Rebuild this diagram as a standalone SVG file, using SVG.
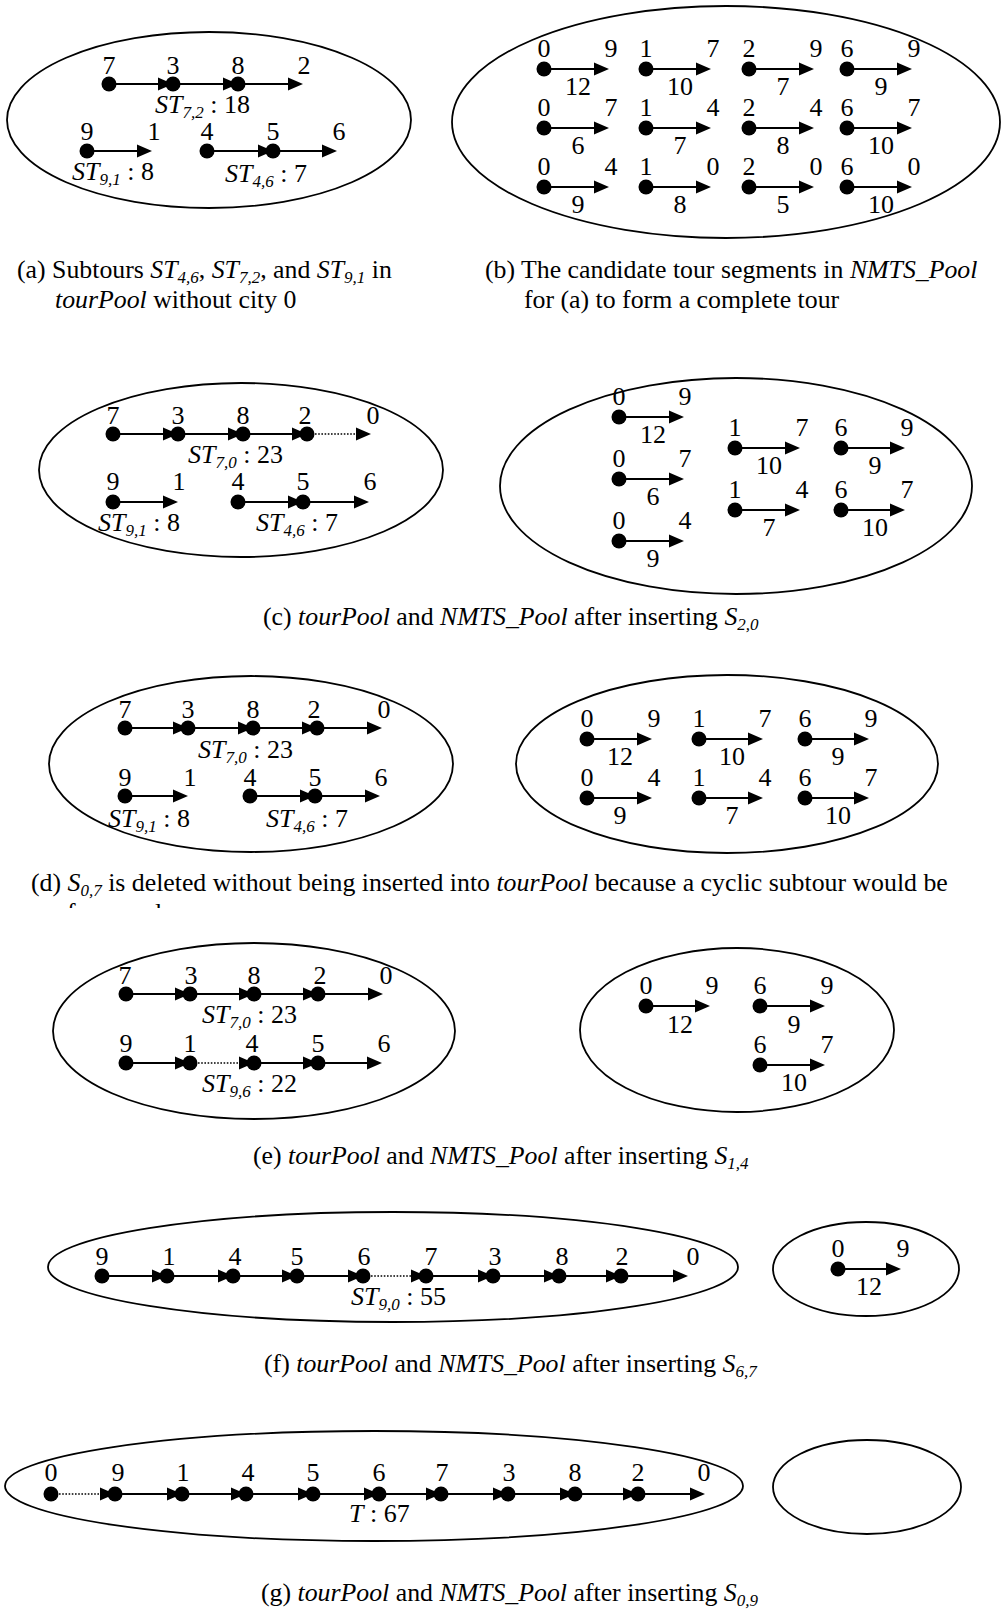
<svg xmlns="http://www.w3.org/2000/svg" width="1001" height="1615" viewBox="0 0 1001 1615">
<style>
text{font-family:'Liberation Serif','Times New Roman',serif;font-size:26px;fill:#000}
.m{text-anchor:middle}
.i{font-style:italic}
.s{font-size:17px;font-style:italic}
.cap{font-size:25.8px}
.e{fill:none;stroke:#000;stroke-width:1.8}
.c{stroke:#000;stroke-width:2;fill:none;marker-end:url(#ah)}
.d{stroke:#000;stroke-width:1.6;stroke-dasharray:1.6 1.6;fill:none;marker-end:url(#ah)}
.n{fill:#000}
</style>
<defs>
<marker id="ah" markerUnits="userSpaceOnUse" markerWidth="16" markerHeight="14" refX="7" refY="7" orient="auto"><path d="M0,0.5 L15,7 L0,13.5 Z" fill="#000"/></marker>
<clipPath id="cd"><rect x="0" y="895" width="1001" height="13"/></clipPath>
</defs>
<rect width="1001" height="1615" fill="#fff"/>

<g id="pools">
<ellipse id="a-tourPool" class="e" cx="209" cy="120" rx="202" ry="88"/>
<ellipse id="b-nmts" class="e" cx="726" cy="122" rx="274" ry="116"/>
<ellipse id="c-tourPool" class="e" cx="241" cy="470" rx="202" ry="87"/>
<ellipse id="c-nmts" class="e" cx="736" cy="486" rx="236" ry="108"/>
<ellipse id="d-tourPool" class="e" cx="251" cy="764" rx="202" ry="88"/>
<ellipse id="d-nmts" class="e" cx="727" cy="764" rx="211" ry="89"/>
<ellipse id="e-tourPool" class="e" cx="254" cy="1031" rx="201" ry="88"/>
<ellipse id="e-nmts" class="e" cx="737" cy="1030" rx="157" ry="82"/>
<ellipse id="f-tourPool" class="e" cx="393" cy="1267" rx="345" ry="55"/>
<ellipse id="f-nmts" class="e" cx="866" cy="1269" rx="93" ry="47"/>
<ellipse id="g-tourPool" class="e" cx="374" cy="1486" rx="369" ry="55"/>
<ellipse id="g-nmts" class="e" cx="867" cy="1487" rx="94" ry="47"/>
</g>

<g id="connectors">
<path class="c" d="M109,84 H165"/><path class="c" d="M173,84 H230"/><path class="c" d="M238,84 H295"/>
<path class="c" d="M87,151 H144"/><path class="c" d="M207,151 H265"/><path class="c" d="M273,151 H329"/>
<path class="c" d="M544,69 H601"/><path class="c" d="M646,69 H703"/><path class="c" d="M749,69 H806"/><path class="c" d="M847,69 H904"/>
<path class="c" d="M544,128 H601"/><path class="c" d="M646,128 H703"/><path class="c" d="M749,128 H806"/><path class="c" d="M847,128 H904"/>
<path class="c" d="M544,187 H601"/><path class="c" d="M646,187 H703"/><path class="c" d="M749,187 H806"/><path class="c" d="M847,187 H904"/>
<path class="c" d="M113,434 H170"/><path class="c" d="M178,434 H235"/><path class="c" d="M243,434 H299"/><path class="d" d="M315,434 H363"/>
<path class="c" d="M113,502 H170"/><path class="c" d="M238,502 H295"/><path class="c" d="M303,502 H361"/>
<path class="c" d="M619,417 H676"/><path class="c" d="M619,479 H676"/><path class="c" d="M619,541 H676"/>
<path class="c" d="M735,448 H792"/><path class="c" d="M735,510 H792"/>
<path class="c" d="M841,448 H897"/><path class="c" d="M841,510 H897"/>
<path class="c" d="M125,728 H180"/><path class="c" d="M188,728 H245"/><path class="c" d="M253,728 H309"/><path class="c" d="M317,728 H374"/>
<path class="c" d="M125,796 H180"/><path class="c" d="M250,796 H307"/><path class="c" d="M315,796 H372"/>
<path class="c" d="M587,739 H644"/><path class="c" d="M699,739 H755"/><path class="c" d="M805,739 H861"/>
<path class="c" d="M587,798 H644"/><path class="c" d="M699,798 H755"/><path class="c" d="M805,798 H861"/>
<path class="c" d="M126,994 H182"/><path class="c" d="M190,994 H246"/><path class="c" d="M254,994 H310"/><path class="c" d="M318,994 H375"/>
<path class="c" d="M126,1063 H182"/><path class="d" d="M198,1063 H246"/><path class="c" d="M254,1063 H310"/><path class="c" d="M318,1063 H374"/>
<path class="c" d="M646,1006 H702"/><path class="c" d="M760,1006 H817"/><path class="c" d="M760,1065 H817"/>
<path class="c" d="M102,1276 H159"/><path class="c" d="M167,1276 H225"/><path class="c" d="M233,1276 H289"/><path class="c" d="M297,1276 H355"/>
<path class="d" d="M371,1276 H418"/><path class="c" d="M426,1276 H485"/><path class="c" d="M493,1276 H551"/><path class="c" d="M559,1276 H613"/><path class="c" d="M621,1276 H680"/>
<path class="c" d="M838,1269 H893"/>
<path class="d" d="M59,1494 H107"/><path class="c" d="M115,1494 H174"/><path class="c" d="M182,1494 H238"/><path class="c" d="M246,1494 H305"/><path class="c" d="M313,1494 H371"/>
<path class="c" d="M379,1494 H433"/><path class="c" d="M441,1494 H500"/><path class="c" d="M508,1494 H567"/><path class="c" d="M575,1494 H630"/><path class="c" d="M638,1494 H697"/>
</g>

<g id="edge-weights">
<text class="m" x="578" y="95">12</text><text class="m" x="680" y="95">10</text><text class="m" x="783" y="95">7</text><text class="m" x="881" y="95">9</text>
<text class="m" x="578" y="154">6</text><text class="m" x="680" y="154">7</text><text class="m" x="783" y="154">8</text><text class="m" x="881" y="154">10</text>
<text class="m" x="578" y="213">9</text><text class="m" x="680" y="213">8</text><text class="m" x="783" y="213">5</text><text class="m" x="881" y="213">10</text>
<text class="m" x="653" y="443">12</text><text class="m" x="653" y="505">6</text><text class="m" x="653" y="567">9</text>
<text class="m" x="769" y="474">10</text><text class="m" x="769" y="536">7</text>
<text class="m" x="875" y="474">9</text><text class="m" x="875" y="536">10</text>
<text class="m" x="620" y="765">12</text><text class="m" x="732" y="765">10</text><text class="m" x="838" y="765">9</text>
<text class="m" x="620" y="824">9</text><text class="m" x="732" y="824">7</text><text class="m" x="838" y="824">10</text>
<text class="m" x="680" y="1033">12</text><text class="m" x="794" y="1033">9</text><text class="m" x="794" y="1091">10</text>
<text class="m" x="869" y="1295">12</text>
</g>

<g id="a-n7"><circle class="n" cx="109" cy="84" r="7.5"/><text class="m" x="109" y="74">7</text></g>
<g id="a-n3"><circle class="n" cx="173" cy="84" r="7.5"/><text class="m" x="173" y="74">3</text></g>
<g id="a-n8"><circle class="n" cx="238" cy="84" r="7.5"/><text class="m" x="238" y="74">8</text></g>
<g id="a-n2"><text class="m" x="304" y="74">2</text></g>
<g id="a-n9"><circle class="n" cx="87" cy="151" r="7.5"/><text class="m" x="87" y="140">9</text></g>
<g id="a-n1"><text class="m" x="154" y="140">1</text></g>
<g id="a-n4"><circle class="n" cx="207" cy="151" r="7.5"/><text class="m" x="207" y="140">4</text></g>
<g id="a-n5"><circle class="n" cx="273" cy="151" r="7.5"/><text class="m" x="273" y="140">5</text></g>
<g id="a-n6"><text class="m" x="339" y="140">6</text></g>
<text x="155" y="113"><tspan class="i">ST</tspan><tspan class="s" dy="5">7,2</tspan><tspan dy="-5"> : 18</tspan></text>
<text x="72" y="180"><tspan class="i">ST</tspan><tspan class="s" dy="5">9,1</tspan><tspan dy="-5"> : 8</tspan></text>
<text x="225" y="182"><tspan class="i">ST</tspan><tspan class="s" dy="5">4,6</tspan><tspan dy="-5"> : 7</tspan></text>

<g id="b-s09"><circle class="n" cx="544" cy="69" r="7.5"/><text class="m" x="544" y="57">0</text><text class="m" x="611" y="57">9</text></g>
<g id="b-s17"><circle class="n" cx="646" cy="69" r="7.5"/><text class="m" x="646" y="57">1</text><text class="m" x="713" y="57">7</text></g>
<g id="b-s29"><circle class="n" cx="749" cy="69" r="7.5"/><text class="m" x="749" y="57">2</text><text class="m" x="816" y="57">9</text></g>
<g id="b-s69"><circle class="n" cx="847" cy="69" r="7.5"/><text class="m" x="847" y="57">6</text><text class="m" x="914" y="57">9</text></g>
<g id="b-s07"><circle class="n" cx="544" cy="128" r="7.5"/><text class="m" x="544" y="116">0</text><text class="m" x="611" y="116">7</text></g>
<g id="b-s14"><circle class="n" cx="646" cy="128" r="7.5"/><text class="m" x="646" y="116">1</text><text class="m" x="713" y="116">4</text></g>
<g id="b-s24"><circle class="n" cx="749" cy="128" r="7.5"/><text class="m" x="749" y="116">2</text><text class="m" x="816" y="116">4</text></g>
<g id="b-s67"><circle class="n" cx="847" cy="128" r="7.5"/><text class="m" x="847" y="116">6</text><text class="m" x="914" y="116">7</text></g>
<g id="b-s04"><circle class="n" cx="544" cy="187" r="7.5"/><text class="m" x="544" y="175">0</text><text class="m" x="611" y="175">4</text></g>
<g id="b-s10"><circle class="n" cx="646" cy="187" r="7.5"/><text class="m" x="646" y="175">1</text><text class="m" x="713" y="175">0</text></g>
<g id="b-s20"><circle class="n" cx="749" cy="187" r="7.5"/><text class="m" x="749" y="175">2</text><text class="m" x="816" y="175">0</text></g>
<g id="b-s60"><circle class="n" cx="847" cy="187" r="7.5"/><text class="m" x="847" y="175">6</text><text class="m" x="914" y="175">0</text></g>

<g id="c-n7"><circle class="n" cx="113" cy="434" r="7.5"/><text class="m" x="113" y="424">7</text></g>
<g id="c-n3"><circle class="n" cx="178" cy="434" r="7.5"/><text class="m" x="178" y="424">3</text></g>
<g id="c-n8"><circle class="n" cx="243" cy="434" r="7.5"/><text class="m" x="243" y="424">8</text></g>
<g id="c-n2"><circle class="n" cx="307" cy="434" r="7.5"/><text class="m" x="305" y="424">2</text></g>
<g id="c-n0"><text class="m" x="373" y="424">0</text></g>
<g id="c-n9"><circle class="n" cx="113" cy="502" r="7.5"/><text class="m" x="113" y="490">9</text></g>
<g id="c-n1"><text class="m" x="179" y="490">1</text></g>
<g id="c-n4"><circle class="n" cx="238" cy="502" r="7.5"/><text class="m" x="238" y="490">4</text></g>
<g id="c-n5"><circle class="n" cx="303" cy="502" r="7.5"/><text class="m" x="303" y="490">5</text></g>
<g id="c-n6"><text class="m" x="370" y="490">6</text></g>
<text x="188" y="463"><tspan class="i">ST</tspan><tspan class="s" dy="5">7,0</tspan><tspan dy="-5"> : 23</tspan></text>
<text x="98" y="531"><tspan class="i">ST</tspan><tspan class="s" dy="5">9,1</tspan><tspan dy="-5"> : 8</tspan></text>
<text x="256" y="531"><tspan class="i">ST</tspan><tspan class="s" dy="5">4,6</tspan><tspan dy="-5"> : 7</tspan></text>
<g id="c-s09"><circle class="n" cx="619" cy="417" r="7.5"/><text class="m" x="619" y="405">0</text><text class="m" x="685" y="405">9</text></g>
<g id="c-s07"><circle class="n" cx="619" cy="479" r="7.5"/><text class="m" x="619" y="467">0</text><text class="m" x="685" y="467">7</text></g>
<g id="c-s04"><circle class="n" cx="619" cy="541" r="7.5"/><text class="m" x="619" y="529">0</text><text class="m" x="685" y="529">4</text></g>
<g id="c-s17"><circle class="n" cx="735" cy="448" r="7.5"/><text class="m" x="735" y="436">1</text><text class="m" x="802" y="436">7</text></g>
<g id="c-s14"><circle class="n" cx="735" cy="510" r="7.5"/><text class="m" x="735" y="498">1</text><text class="m" x="802" y="498">4</text></g>
<g id="c-s69"><circle class="n" cx="841" cy="448" r="7.5"/><text class="m" x="841" y="436">6</text><text class="m" x="907" y="436">9</text></g>
<g id="c-s67"><circle class="n" cx="841" cy="510" r="7.5"/><text class="m" x="841" y="498">6</text><text class="m" x="907" y="498">7</text></g>

<g id="d-n7"><circle class="n" cx="125" cy="728" r="7.5"/><text class="m" x="125" y="718">7</text></g>
<g id="d-n3"><circle class="n" cx="188" cy="728" r="7.5"/><text class="m" x="188" y="718">3</text></g>
<g id="d-n8"><circle class="n" cx="253" cy="728" r="7.5"/><text class="m" x="253" y="718">8</text></g>
<g id="d-n2"><circle class="n" cx="317" cy="728" r="7.5"/><text class="m" x="314" y="718">2</text></g>
<g id="d-n0"><text class="m" x="384" y="718">0</text></g>
<g id="d-n9"><circle class="n" cx="125" cy="796" r="7.5"/><text class="m" x="125" y="786">9</text></g>
<g id="d-n1"><text class="m" x="190" y="786">1</text></g>
<g id="d-n4"><circle class="n" cx="250" cy="796" r="7.5"/><text class="m" x="250" y="786">4</text></g>
<g id="d-n5"><circle class="n" cx="315" cy="796" r="7.5"/><text class="m" x="315" y="786">5</text></g>
<g id="d-n6"><text class="m" x="381" y="786">6</text></g>
<text x="198" y="758"><tspan class="i">ST</tspan><tspan class="s" dy="5">7,0</tspan><tspan dy="-5"> : 23</tspan></text>
<text x="108" y="827"><tspan class="i">ST</tspan><tspan class="s" dy="5">9,1</tspan><tspan dy="-5"> : 8</tspan></text>
<text x="266" y="827"><tspan class="i">ST</tspan><tspan class="s" dy="5">4,6</tspan><tspan dy="-5"> : 7</tspan></text>
<g id="d-s09"><circle class="n" cx="587" cy="739" r="7.5"/><text class="m" x="587" y="727">0</text><text class="m" x="654" y="727">9</text></g>
<g id="d-s17"><circle class="n" cx="699" cy="739" r="7.5"/><text class="m" x="699" y="727">1</text><text class="m" x="765" y="727">7</text></g>
<g id="d-s69"><circle class="n" cx="805" cy="739" r="7.5"/><text class="m" x="805" y="727">6</text><text class="m" x="871" y="727">9</text></g>
<g id="d-s04"><circle class="n" cx="587" cy="798" r="7.5"/><text class="m" x="587" y="786">0</text><text class="m" x="654" y="786">4</text></g>
<g id="d-s14"><circle class="n" cx="699" cy="798" r="7.5"/><text class="m" x="699" y="786">1</text><text class="m" x="765" y="786">4</text></g>
<g id="d-s67"><circle class="n" cx="805" cy="798" r="7.5"/><text class="m" x="805" y="786">6</text><text class="m" x="871" y="786">7</text></g>

<g id="e-n7"><circle class="n" cx="126" cy="994" r="7.5"/><text class="m" x="125" y="984">7</text></g>
<g id="e-n3"><circle class="n" cx="190" cy="994" r="7.5"/><text class="m" x="191" y="984">3</text></g>
<g id="e-n8"><circle class="n" cx="254" cy="994" r="7.5"/><text class="m" x="254" y="984">8</text></g>
<g id="e-n2"><circle class="n" cx="318" cy="994" r="7.5"/><text class="m" x="320" y="984">2</text></g>
<g id="e-n0"><text class="m" x="386" y="984">0</text></g>
<g id="e-n9"><circle class="n" cx="126" cy="1063" r="7.5"/><text class="m" x="126" y="1052">9</text></g>
<g id="e-n1"><circle class="n" cx="190" cy="1063" r="7.5"/><text class="m" x="190" y="1052">1</text></g>
<g id="e-n4"><circle class="n" cx="254" cy="1063" r="7.5"/><text class="m" x="252" y="1052">4</text></g>
<g id="e-n5"><circle class="n" cx="318" cy="1063" r="7.5"/><text class="m" x="318" y="1052">5</text></g>
<g id="e-n6"><text class="m" x="384" y="1052">6</text></g>
<text x="202" y="1023"><tspan class="i">ST</tspan><tspan class="s" dy="5">7,0</tspan><tspan dy="-5"> : 23</tspan></text>
<text x="202" y="1092"><tspan class="i">ST</tspan><tspan class="s" dy="5">9,6</tspan><tspan dy="-5"> : 22</tspan></text>
<g id="e-s09"><circle class="n" cx="646" cy="1006" r="7.5"/><text class="m" x="646" y="994">0</text><text class="m" x="712" y="994">9</text></g>
<g id="e-s69"><circle class="n" cx="760" cy="1006" r="7.5"/><text class="m" x="760" y="994">6</text><text class="m" x="827" y="994">9</text></g>
<g id="e-s67"><circle class="n" cx="760" cy="1065" r="7.5"/><text class="m" x="760" y="1053">6</text><text class="m" x="827" y="1053">7</text></g>

<g id="f-n9"><circle class="n" cx="102" cy="1276" r="7.5"/><text class="m" x="102" y="1265">9</text></g>
<g id="f-n1"><circle class="n" cx="167" cy="1276" r="7.5"/><text class="m" x="169" y="1265">1</text></g>
<g id="f-n4"><circle class="n" cx="233" cy="1276" r="7.5"/><text class="m" x="235" y="1265">4</text></g>
<g id="f-n5"><circle class="n" cx="297" cy="1276" r="7.5"/><text class="m" x="297" y="1265">5</text></g>
<g id="f-n6"><circle class="n" cx="363" cy="1276" r="7.5"/><text class="m" x="364" y="1265">6</text></g>
<g id="f-n7"><circle class="n" cx="426" cy="1276" r="7.5"/><text class="m" x="431" y="1265">7</text></g>
<g id="f-n3"><circle class="n" cx="493" cy="1276" r="7.5"/><text class="m" x="495" y="1265">3</text></g>
<g id="f-n8"><circle class="n" cx="559" cy="1276" r="7.5"/><text class="m" x="562" y="1265">8</text></g>
<g id="f-n2"><circle class="n" cx="621" cy="1276" r="7.5"/><text class="m" x="622" y="1265">2</text></g>
<g id="f-n0"><text class="m" x="693" y="1265">0</text></g>
<text x="351" y="1305"><tspan class="i">ST</tspan><tspan class="s" dy="5">9,0</tspan><tspan dy="-5"> : 55</tspan></text>
<g id="f-s09"><circle class="n" cx="838" cy="1269" r="7.5"/><text class="m" x="838" y="1257">0</text><text class="m" x="903" y="1257">9</text></g>

<g id="g-n0s"><circle class="n" cx="51" cy="1494" r="7.5"/><text class="m" x="51" y="1481">0</text></g>
<g id="g-n9"><circle class="n" cx="115" cy="1494" r="7.5"/><text class="m" x="118" y="1481">9</text></g>
<g id="g-n1"><circle class="n" cx="182" cy="1494" r="7.5"/><text class="m" x="183" y="1481">1</text></g>
<g id="g-n4"><circle class="n" cx="246" cy="1494" r="7.5"/><text class="m" x="248" y="1481">4</text></g>
<g id="g-n5"><circle class="n" cx="313" cy="1494" r="7.5"/><text class="m" x="313" y="1481">5</text></g>
<g id="g-n6"><circle class="n" cx="379" cy="1494" r="7.5"/><text class="m" x="379" y="1481">6</text></g>
<g id="g-n7"><circle class="n" cx="441" cy="1494" r="7.5"/><text class="m" x="442" y="1481">7</text></g>
<g id="g-n3"><circle class="n" cx="508" cy="1494" r="7.5"/><text class="m" x="509" y="1481">3</text></g>
<g id="g-n8"><circle class="n" cx="575" cy="1494" r="7.5"/><text class="m" x="575" y="1481">8</text></g>
<g id="g-n2"><circle class="n" cx="638" cy="1494" r="7.5"/><text class="m" x="638" y="1481">2</text></g>
<g id="g-n0e"><text class="m" x="704" y="1481">0</text></g>
<text x="349" y="1522"><tspan class="i">T</tspan> : 67</text>

<g id="captions">
<text class="cap" x="17" y="278">(a) Subtours <tspan class="i">ST</tspan><tspan class="s" dy="5">4,6</tspan><tspan dy="-5">, </tspan><tspan class="i">ST</tspan><tspan class="s" dy="5">7,2</tspan><tspan dy="-5">, and </tspan><tspan class="i">ST</tspan><tspan class="s" dy="5">9,1</tspan><tspan dy="-5"> in</tspan></text>
<text class="cap" x="55" y="308"><tspan class="i">tourPool</tspan> without city 0</text>
<text class="cap" x="485" y="278">(b) The candidate tour segments in <tspan class="i">NMTS_Pool</tspan></text>
<text class="cap" x="524" y="308">for (a) to form a complete tour</text>
<text class="cap" x="263" y="625">(c) <tspan class="i">tourPool</tspan> and <tspan class="i">NMTS_Pool</tspan> after inserting <tspan class="i">S</tspan><tspan class="s" dy="5">2,0</tspan></text>
<text class="cap" x="31" y="891">(d) <tspan class="i">S</tspan><tspan class="s" dy="5">0,7</tspan><tspan dy="-5"> is deleted without being inserted into </tspan><tspan class="i">tourPool</tspan> because a cyclic subtour would be</text>
<text class="cap" x="67" y="921" letter-spacing="4" clip-path="url(#cd)">formed.</text>
<text class="cap" x="253" y="1164">(e) <tspan class="i">tourPool</tspan> and <tspan class="i">NMTS_Pool</tspan> after inserting <tspan class="i">S</tspan><tspan class="s" dy="5">1,4</tspan></text>
<text class="cap" x="264" y="1372">(f) <tspan class="i">tourPool</tspan> and <tspan class="i">NMTS_Pool</tspan> after inserting <tspan class="i">S</tspan><tspan class="s" dy="5">6,7</tspan></text>
<text class="cap" x="261" y="1601">(g) <tspan class="i">tourPool</tspan> and <tspan class="i">NMTS_Pool</tspan> after inserting <tspan class="i">S</tspan><tspan class="s" dy="5">0,9</tspan></text>
</g>
</svg>
